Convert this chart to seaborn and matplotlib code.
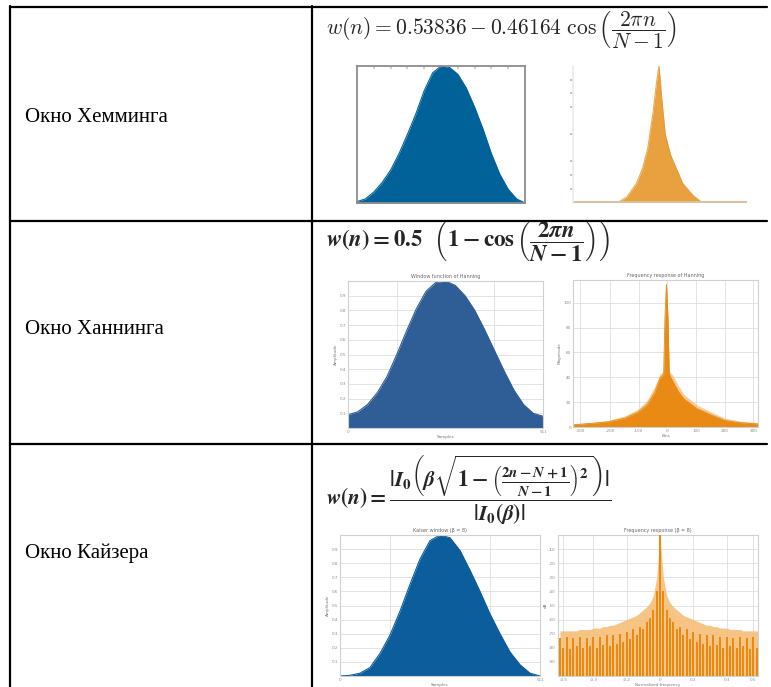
import numpy as np
import pandas as pd
import matplotlib
matplotlib.use("Agg")
import matplotlib.pyplot as plt
import seaborn as sns
from matplotlib.lines import Line2D

# ---------------- DATA ----------------
row_labels = ["Окно Хемминга", "Окно Ханнинга", "Окно Кайзера"]

win_x = [0.0, 0.05, 0.10, 0.15, 0.20, 0.25, 0.30, 0.35, 0.40, 0.45, 0.50,
         0.55, 0.60, 0.65, 0.70, 0.75, 0.80, 0.85, 0.90, 0.95, 1.0]
hamming_win = [0.01, 0.03, 0.08, 0.15, 0.24, 0.36, 0.50, 0.65, 0.82, 0.95, 1.00,
               0.99, 0.94, 0.84, 0.70, 0.54, 0.36, 0.21, 0.10, 0.03, 0.0]
hann_win = [0.09, 0.11, 0.16, 0.24, 0.35, 0.50, 0.66, 0.81, 0.93, 0.99, 1.00,
            0.97, 0.90, 0.80, 0.67, 0.53, 0.39, 0.26, 0.16, 0.10, 0.08]
kaiser_win = [0.0, 0.005, 0.02, 0.06, 0.16, 0.29, 0.46, 0.65, 0.83, 0.96, 1.00,
              0.98, 0.89, 0.75, 0.60, 0.44, 0.30, 0.17, 0.08, 0.02, 0.0]

hamming_spec_x = [0.0, 0.26, 0.31, 0.365, 0.40, 0.43, 0.46, 0.48, 0.494,
                  0.51, 0.53, 0.56, 0.59, 0.63, 0.69, 0.74, 1.0]
hamming_spec = [0.0, 0.0, 0.04, 0.14, 0.25, 0.40, 0.66, 0.88, 1.0,
                0.76, 0.50, 0.35, 0.26, 0.14, 0.05, 0.0, 0.0]

hann_spec_x = [0.0, 0.10, 0.19, 0.28, 0.35, 0.40, 0.44, 0.47, 0.49, 0.497,
               0.505, 0.513, 0.52, 0.54, 0.57, 0.60, 0.67, 0.75, 0.82, 0.90, 1.0]
hann_spec = [0.015, 0.025, 0.035, 0.06, 0.10, 0.15, 0.23, 0.33, 0.36, 0.75,
             0.97, 0.75, 0.36, 0.31, 0.24, 0.19, 0.125, 0.08, 0.045, 0.03, 0.02]
hann_halo = [0.02, 0.03, 0.045, 0.075, 0.12, 0.18, 0.27, 0.36, 0.38, 0.75,
             0.97, 0.75, 0.38, 0.35, 0.28, 0.22, 0.15, 0.10, 0.06, 0.04, 0.03]

kaiser_bins = list(range(-30, 31))
kaiser_spec = [0.27, 0.20, 0.28, 0.19, 0.27, 0.21, 0.28, 0.20, 0.27, 0.21,
               0.28, 0.20, 0.28, 0.22, 0.29, 0.21, 0.29, 0.23, 0.30, 0.24,
               0.31, 0.26, 0.33, 0.29, 0.35, 0.33, 0.38, 0.41, 0.47, 0.60,
               1.00,
               0.60, 0.47, 0.41, 0.38, 0.33, 0.35, 0.29, 0.33, 0.26, 0.31,
               0.24, 0.30, 0.23, 0.29, 0.21, 0.29, 0.22, 0.28, 0.20, 0.28,
               0.21, 0.27, 0.20, 0.28, 0.21, 0.27, 0.19, 0.28, 0.20, 0.27]
kaiser_halo = [0.32, 0.32, 0.32, 0.32, 0.32, 0.32, 0.33, 0.33, 0.33, 0.33,
               0.34, 0.34, 0.34, 0.35, 0.35, 0.36, 0.36, 0.37, 0.38, 0.39,
               0.40, 0.41, 0.42, 0.43, 0.45, 0.47, 0.49, 0.52, 0.57, 0.70,
               1.00,
               0.70, 0.57, 0.52, 0.49, 0.47, 0.45, 0.43, 0.42, 0.41, 0.40,
               0.39, 0.38, 0.37, 0.36, 0.36, 0.35, 0.35, 0.34, 0.34, 0.34,
               0.33, 0.33, 0.33, 0.33, 0.32, 0.32, 0.32, 0.32, 0.32, 0.32]

win_yticks = [0.1, 0.2, 0.3, 0.4, 0.5, 0.6, 0.7, 0.8, 0.9]
win_ylabels = ["0.1", "0.2", "0.3", "0.4", "0.5", "0.6", "0.7", "0.8", "0.9"]
hann_spec_xticks = [0.04, 0.20, 0.355, 0.51, 0.665, 0.82, 0.975]
hann_spec_xlabels = ["-300", "-200", "-100", "0", "100", "200", "300"]
hann_spec_yticks = [0.0, 0.169, 0.338, 0.507, 0.676, 0.845]
hann_spec_ylabels = ["0", "20", "40", "60", "80", "100"]
kaiser_spec_xticks = [-29, -20, -10, 0, 10, 20, 28]
kaiser_spec_xlabels = ["-0.5", "-0.3", "-0.2", "0", "0.2", "0.3", "0.5"]
kaiser_spec_yticks = [0.1, 0.2, 0.3, 0.4, 0.5, 0.6, 0.7, 0.8, 0.9]
kaiser_spec_ylabels = ["-90", "-80", "-70", "-60", "-50", "-40", "-30", "-20", "-10"]

# ---------------- STYLE ----------------
sns.set_theme(style="white")
plt.rcParams["mathtext.fontset"] = "cm"
plt.rcParams["mathtext.rm"] = "STIXGeneral:bold"
plt.rcParams["mathtext.it"] = "STIXGeneral:italic:bold"
plt.rcParams["mathtext.bf"] = "STIXGeneral:bold"
plt.rcParams["font.family"] = ["DejaVu Sans"]

W, H = 771, 687
fig = plt.figure(figsize=(W / 100, H / 100), dpi=100)
fig.patch.set_facecolor("white")


def fx(x):
    return x / W


def fy(y):
    return 1 - y / H


def add_ax(x0, y0, x1, y1):
    return fig.add_axes([fx(x0), fy(y1), (x1 - x0) / W, (y1 - y0) / H])


# table lines
lw_tab = 1.6
for (xa, ya, xb, yb) in [(10, 7, 767, 7), (10, 6, 10, 687), (312, 6, 312, 687),
                         (10, 220.5, 767, 220.5), (10, 444, 767, 444)]:
    fig.add_artist(Line2D([fx(xa), fx(xb)], [fy(ya), fy(yb)], color="black",
                          lw=lw_tab, transform=fig.transFigure, zorder=10))

label_y = [118, 330, 553]
for lab, yy in zip(row_labels, label_y):
    fig.text(fx(25), fy(yy), lab, fontsize=15, family=["Liberation Serif", "DejaVu Serif"],
             va="center", ha="left", color="black")

f_hamming = r"$w(n) = 0.53836 - 0.46164\ \cos\left(\dfrac{2\pi n}{N-1}\right)$"
f_hann = r"$w(n) = 0.5\ \ \left(1 - \cos\left(\dfrac{2\pi n}{N-1}\right)\right)$"
f_kaiser = (r"$w(n) = \dfrac{|I_0\left(\beta\sqrt{1-\left(\frac{2n-N+1}{N-1}\right)^2}\right)|}"
            r"{|I_0(\beta)|}$")

fig.text(fx(326), fy(30), f_hamming, fontsize=15.5, va="center", ha="left")
fig.text(fx(326), fy(242), f_hann, fontsize=16.5, va="center", ha="left",
         math_fontfamily="custom")
fig.text(fx(326), fy(490), f_kaiser, fontsize=15.5, va="center", ha="left",
         math_fontfamily="custom")

blue1 = "#01629a"
blue2 = "#2f5e97"
blue3 = "#0b5d9b"
orange = "#e8982e"
orange2 = "#e98a14"
orange_light = "#f5bf78"

# ---------- Panel 1: Hamming window ----------
ax1 = add_ax(357, 66, 525, 203)
d1 = pd.DataFrame({"x": win_x, "y": hamming_win})
sns.lineplot(data=d1, x="x", y="y", ax=ax1, color=blue1, lw=0.8)
ax1.fill_between(d1["x"], d1["y"], color=blue1, lw=0)
ax1.set_xlim(0, 1)
ax1.set_ylim(0, 1)
for s in ax1.spines.values():
    s.set_color("#8d8d8d")
    s.set_linewidth(1.3)
ax1.set_xticks(np.linspace(0, 1, 11))
ax1.set_yticks([])
ax1.tick_params(axis="x", which="both", direction="in", length=2, color="#c8c8c8",
                top=True, bottom=True, labelbottom=False)
ax1.set_xlabel("")
ax1.set_ylabel("")

# ---------- Panel 2: Hamming spectrum ----------
ax2 = add_ax(573, 66, 747, 203)
d2 = pd.DataFrame({"x": hamming_spec_x, "y": hamming_spec})
sns.lineplot(data=d2, x="x", y="y", ax=ax2, color=orange, lw=0.8, alpha=0.8)
ax2.fill_between(d2["x"], d2["y"], color=orange, alpha=0.92, lw=0)
ax2.axhline(0, color="#dcc09a", lw=2.2)
ax2.set_xlim(0, 1)
ax2.set_ylim(-0.005, 1.0)
for k, s in ax2.spines.items():
    s.set_visible(k == "left")
ax2.spines["left"].set_color("#ececec")
ax2.set_xticks([])
ax2.set_yticks([0.1, 0.2, 0.3, 0.5, 0.7, 0.8, 0.9])
ax2.tick_params(axis="y", direction="out", length=2, width=1.2, color="#b5b5b5",
                left=True, labelleft=False)
ax2.set_xlabel("")
ax2.set_ylabel("")


def grid_style(ax, title, xlabel, ylabel):
    ax.grid(True, color="#dedede", lw=0.6)
    ax.set_axisbelow(True)
    for s in ax.spines.values():
        s.set_color("#d0d0d0")
        s.set_linewidth(0.8)
    ax.tick_params(axis="both", labelsize=3, colors="#8a8a8a", length=0, pad=1.5)
    ax.set_title(title, fontsize=3.5, color="#666666", pad=2)
    ax.set_xlabel(xlabel, fontsize=3, color="#777777", labelpad=1)
    ax.set_ylabel(ylabel, fontsize=3, color="#777777", labelpad=1)


# ---------- Panel 3: Hann window ----------
ax3 = add_ax(348, 281, 543, 428)
d3 = pd.DataFrame({"x": win_x, "y": hann_win})
sns.lineplot(data=d3, x="x", y="y", ax=ax3, color=blue2, lw=0.8)
ax3.fill_between(d3["x"], d3["y"], color=blue2, lw=0)
ax3.set_xlim(0, 1)
ax3.set_ylim(0, 1)
ax3.set_yticks(win_yticks)
ax3.set_yticklabels(win_ylabels)
ax3.set_xticks([0, 0.25, 0.5, 0.75, 1.0])
ax3.set_xticklabels(["0", "", "", "", "511"])
grid_style(ax3, "Window function of Hanning", "Samples", "Amplitude")

# ---------- Panel 4: Hann spectrum ----------
ax4 = add_ax(573, 280, 758, 427)
d4 = pd.DataFrame({"x": hann_spec_x, "y": hann_spec, "halo": hann_halo})
ax4.fill_between(d4["x"], d4["halo"], color=orange_light, alpha=0.8, lw=0)
sns.lineplot(data=d4, x="x", y="y", ax=ax4, color=orange2, lw=0.6)
ax4.fill_between(d4["x"], d4["y"], color=orange2, lw=0)
ax4.set_xlim(0, 1)
ax4.set_ylim(0, 1.0)
ax4.set_xticks(hann_spec_xticks)
ax4.set_xticklabels(hann_spec_xlabels)
ax4.set_yticks(hann_spec_yticks)
ax4.set_yticklabels(hann_spec_ylabels)
grid_style(ax4, "Frequency response of Hanning", "Bins", "Magnitude")

# ---------- Panel 5: Kaiser window ----------
ax5 = add_ax(340, 535, 540, 676)
d5 = pd.DataFrame({"x": win_x, "y": kaiser_win})
sns.lineplot(data=d5, x="x", y="y", ax=ax5, color=blue3, lw=0.8)
ax5.fill_between(d5["x"], d5["y"], color=blue3, lw=0)
ax5.set_xlim(0, 1)
ax5.set_ylim(0, 1)
ax5.set_yticks(win_yticks)
ax5.set_yticklabels(win_ylabels)
ax5.set_xticks([0, 0.25, 0.5, 0.75, 1.0])
ax5.set_xticklabels(["0", "", "", "", "511"])
grid_style(ax5, "Kaiser window (β = 8)", "Samples", "Amplitude")

# ---------- Panel 6: Kaiser spectrum ----------
ax6 = add_ax(558, 535, 758, 676)
ax6.fill_between(kaiser_bins, kaiser_halo, color=orange_light, alpha=0.9, lw=0)
d6 = pd.DataFrame({"bin": kaiser_bins, "mag": kaiser_spec})
sns.barplot(data=d6, x="bin", y="mag", ax=ax6, native_scale=True, color=orange2,
            saturation=1, width=0.6, linewidth=0, zorder=3)
ax6.set_xlim(-30.6, 29.4)
ax6.set_ylim(0, 1.0)
ax6.set_xticks(kaiser_spec_xticks)
ax6.set_xticklabels(kaiser_spec_xlabels)
ax6.set_yticks(kaiser_spec_yticks)
ax6.set_yticklabels(kaiser_spec_ylabels)
grid_style(ax6, "Frequency response (β = 8)", "Normalized frequency", "dB")

fig.savefig("out.png", dpi=100, facecolor="white")
